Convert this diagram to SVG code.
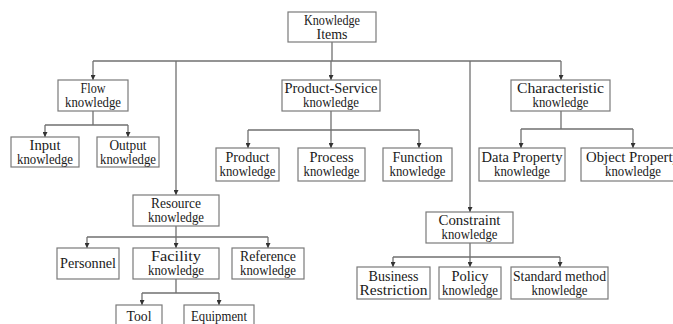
<svg xmlns="http://www.w3.org/2000/svg" width="673" height="324" viewBox="0 0 673 324">
  <style>
    .box { fill: #ffffff; stroke: #7a7a7a; stroke-width: 1.2; }
    .wire { fill: none; stroke: #707070; stroke-width: 1.3; }
    text { font-family: "Liberation Serif", "DejaVu Serif", serif; font-size: 14px; fill: #1a1a1a; text-anchor: middle; }
  </style>
  <defs>
    <marker id="tip" viewBox="0 0 6 6" refX="6" refY="3" markerWidth="5" markerHeight="5" markerUnits="userSpaceOnUse" orient="auto">
      <path d="M0,0 L6,3 L0,6 Z" fill="#333"/>
    </marker>
  </defs>
  <rect width="673" height="324" fill="#ffffff"/>

  <!-- connectors -->
  <g id="connectors" class="wire">
    <!-- root to first level -->
    <path d="M332,42 V61"/>
    <path d="M93,61 H561"/>
    <path d="M93,61 V80" marker-end="url(#tip)"/>
    <path d="M331,61 V80" marker-end="url(#tip)"/>
    <path d="M561,61 V80" marker-end="url(#tip)"/>
    <path d="M176,61 V195" marker-end="url(#tip)"/>
    <path d="M470,61 V212" marker-end="url(#tip)"/>
    <!-- flow -->
    <path d="M93,111 V125 M45,125 H128"/>
    <path d="M45,125 V137" marker-end="url(#tip)"/>
    <path d="M128,125 V137" marker-end="url(#tip)"/>
    <!-- product-service -->
    <path d="M331,111 V130 M248,130 H419"/>
    <path d="M248,130 V148" marker-end="url(#tip)"/>
    <path d="M331,130 V148" marker-end="url(#tip)"/>
    <path d="M419,130 V148" marker-end="url(#tip)"/>
    <!-- characteristic -->
    <path d="M561,111 V129 M521,129 H633"/>
    <path d="M521,129 V148" marker-end="url(#tip)"/>
    <path d="M633,129 V148" marker-end="url(#tip)"/>
    <!-- resource -->
    <path d="M176,226 V237 M87,237 H268"/>
    <path d="M87,237 V248" marker-end="url(#tip)"/>
    <path d="M176,237 V248" marker-end="url(#tip)"/>
    <path d="M268,237 V248" marker-end="url(#tip)"/>
    <!-- facility -->
    <path d="M176,279 V293 M142,293 H219"/>
    <path d="M142,293 V305" marker-end="url(#tip)"/>
    <path d="M219,293 V305" marker-end="url(#tip)"/>
    <!-- constraint -->
    <path d="M470,243 V257 M393,257 H560"/>
    <path d="M393,257 V267" marker-end="url(#tip)"/>
    <path d="M470,257 V267" marker-end="url(#tip)"/>
    <path d="M560,257 V267" marker-end="url(#tip)"/>
  </g>

  <g id="knowledge-items">
    <rect class="box" x="288" y="12" width="88" height="30"/>
    <text x="332" y="25" textLength="56" lengthAdjust="spacingAndGlyphs">Knowledge</text>
    <text x="332" y="39" textLength="31" lengthAdjust="spacingAndGlyphs">Items</text>
  </g>

  <g id="flow">
    <rect class="box" x="58" y="80" width="70" height="31"/>
    <text x="93" y="93" textLength="25" lengthAdjust="spacingAndGlyphs">Flow</text>
    <text x="93" y="107" textLength="56" lengthAdjust="spacingAndGlyphs">knowledge</text>
  </g>
  <g id="input">
    <rect class="box" x="11" y="137" width="68" height="30"/>
    <text x="45" y="150" textLength="31" lengthAdjust="spacingAndGlyphs">Input</text>
    <text x="45" y="164" textLength="56" lengthAdjust="spacingAndGlyphs">knowledge</text>
  </g>
  <g id="output">
    <rect class="box" x="97" y="137" width="62" height="30"/>
    <text x="128" y="150" textLength="37" lengthAdjust="spacingAndGlyphs">Output</text>
    <text x="128" y="164" textLength="56" lengthAdjust="spacingAndGlyphs">knowledge</text>
  </g>

  <g id="product-service">
    <rect class="box" x="282" y="80" width="98" height="31"/>
    <text x="331" y="93" textLength="93" lengthAdjust="spacingAndGlyphs">Product-Service</text>
    <text x="331" y="107" textLength="56" lengthAdjust="spacingAndGlyphs">knowledge</text>
  </g>
  <g id="product">
    <rect class="box" x="216" y="148" width="63" height="33"/>
    <text x="247.5" y="162" textLength="44" lengthAdjust="spacingAndGlyphs">Product</text>
    <text x="247.5" y="176" textLength="56" lengthAdjust="spacingAndGlyphs">knowledge</text>
  </g>
  <g id="process">
    <rect class="box" x="298" y="148" width="67" height="33"/>
    <text x="331.5" y="162" textLength="44" lengthAdjust="spacingAndGlyphs">Process</text>
    <text x="331.5" y="176" textLength="56" lengthAdjust="spacingAndGlyphs">knowledge</text>
  </g>
  <g id="function">
    <rect class="box" x="383" y="148" width="69" height="33"/>
    <text x="417.5" y="162" textLength="50" lengthAdjust="spacingAndGlyphs">Function</text>
    <text x="417.5" y="176" textLength="56" lengthAdjust="spacingAndGlyphs">knowledge</text>
  </g>

  <g id="characteristic">
    <rect class="box" x="511" y="80" width="99" height="31"/>
    <text x="560.5" y="93" textLength="87" lengthAdjust="spacingAndGlyphs">Characteristic</text>
    <text x="560.5" y="107" textLength="56" lengthAdjust="spacingAndGlyphs">knowledge</text>
  </g>
  <g id="data-property">
    <rect class="box" x="479" y="148" width="86" height="33"/>
    <text x="522" y="162" textLength="81" lengthAdjust="spacingAndGlyphs">Data Property</text>
    <text x="522" y="176" textLength="56" lengthAdjust="spacingAndGlyphs">knowledge</text>
  </g>
  <g id="object-property">
    <rect class="box" x="581" y="148" width="104" height="33"/>
    <text x="633" y="162" textLength="94" lengthAdjust="spacingAndGlyphs">Object Property</text>
    <text x="633" y="176" textLength="56" lengthAdjust="spacingAndGlyphs">knowledge</text>
  </g>

  <g id="resource">
    <rect class="box" x="133" y="195" width="86" height="31"/>
    <text x="176" y="208" textLength="50" lengthAdjust="spacingAndGlyphs">Resource</text>
    <text x="176" y="222" textLength="56" lengthAdjust="spacingAndGlyphs">knowledge</text>
  </g>
  <g id="personnel">
    <rect class="box" x="57" y="248" width="62" height="31"/>
    <text x="88" y="268" textLength="56" lengthAdjust="spacingAndGlyphs">Personnel</text>
  </g>
  <g id="facility">
    <rect class="box" x="133" y="248" width="86" height="31"/>
    <text x="176" y="261" textLength="50" lengthAdjust="spacingAndGlyphs">Facility</text>
    <text x="176" y="275" textLength="56" lengthAdjust="spacingAndGlyphs">knowledge</text>
  </g>
  <g id="reference">
    <rect class="box" x="232" y="248" width="72" height="31"/>
    <text x="268" y="261" textLength="56" lengthAdjust="spacingAndGlyphs">Reference</text>
    <text x="268" y="275" textLength="56" lengthAdjust="spacingAndGlyphs">knowledge</text>
  </g>
  <g id="tool">
    <rect class="box" x="116" y="305" width="46" height="30"/>
    <text x="139" y="321" textLength="25" lengthAdjust="spacingAndGlyphs">Tool</text>
  </g>
  <g id="equipment">
    <rect class="box" x="184" y="305" width="70" height="30"/>
    <text x="219" y="321" textLength="56" lengthAdjust="spacingAndGlyphs">Equipment</text>
  </g>

  <g id="constraint">
    <rect class="box" x="426" y="212" width="87" height="31"/>
    <text x="469.5" y="225" textLength="62" lengthAdjust="spacingAndGlyphs">Constraint</text>
    <text x="469.5" y="239" textLength="56" lengthAdjust="spacingAndGlyphs">knowledge</text>
  </g>
  <g id="business">
    <rect class="box" x="357" y="267" width="73" height="32"/>
    <text x="393.5" y="281" textLength="50" lengthAdjust="spacingAndGlyphs">Business</text>
    <text x="393.5" y="295" textLength="68" lengthAdjust="spacingAndGlyphs">Restriction</text>
  </g>
  <g id="policy">
    <rect class="box" x="439" y="267" width="62" height="32"/>
    <text x="470" y="281" textLength="37" lengthAdjust="spacingAndGlyphs">Policy</text>
    <text x="470" y="295" textLength="56" lengthAdjust="spacingAndGlyphs">knowledge</text>
  </g>
  <g id="standard-method">
    <rect class="box" x="511" y="267" width="97" height="32"/>
    <text x="559.5" y="281" textLength="93" lengthAdjust="spacingAndGlyphs">Standard method</text>
    <text x="559.5" y="295" textLength="56" lengthAdjust="spacingAndGlyphs">knowledge</text>
  </g>
</svg>
